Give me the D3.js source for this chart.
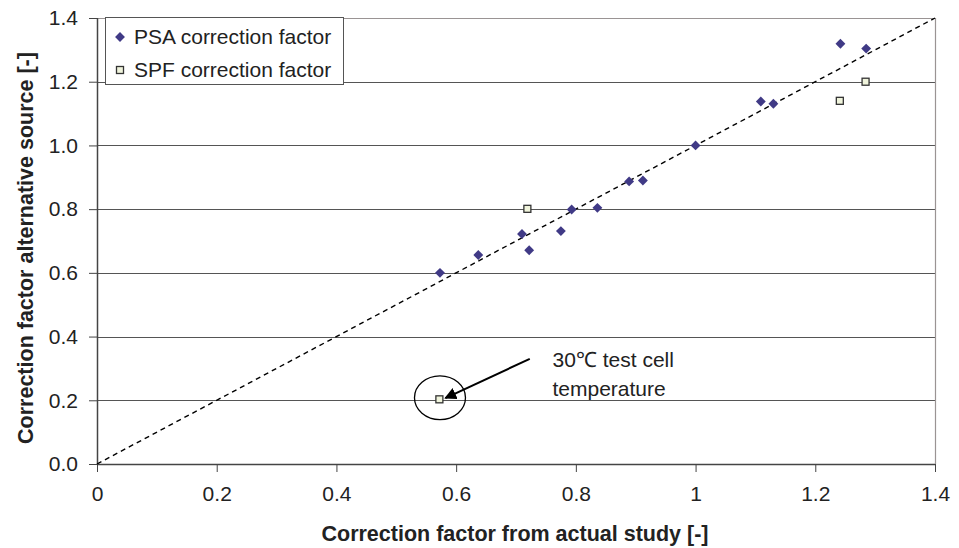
<!DOCTYPE html>
<html><head><meta charset="utf-8">
<script src="https://cdn.jsdelivr.net/npm/d3@7"></script>
<style>body{margin:0;background:#fff;} svg{display:block;} text{font-family:Arial,"Liberation Sans",sans-serif;}</style>
</head><body>
<svg id="c" width="959" height="548"></svg>
<script>
const psaX = [0.573, 0.637, 0.710, 0.722, 0.775, 0.793, 0.836, 0.889, 0.912, 1.0, 1.109, 1.130, 1.242, 1.285];
const psaY = [0.600, 0.656, 0.722, 0.671, 0.731, 0.799, 0.804, 0.887, 0.890, 1.0, 1.138, 1.131, 1.319, 1.304];
const spfX = [0.572, 0.719, 1.241, 1.284];
const spfY = [0.203, 0.801, 1.140, 1.200];
const xTicks = [0, 0.2, 0.4, 0.6, 0.8, 1, 1.2, 1.4];
const yTicks = [0, 0.2, 0.4, 0.6, 0.8, 1.0, 1.2, 1.4];
const seriesNames = ["PSA correction factor", "SPF correction factor"];
const annoLines = ["30\u2103 test cell", "temperature"];

const svg = d3.select("#c");
const L = 97, R = 935, T = 18, B = 464;
const x = d3.scaleLinear().domain([0, 1.4]).range([L, R]);
const y = d3.scaleLinear().domain([0, 1.4]).range([B, T]);
const FS = 21;
const TFS = 21.5;
const diamondFill = "#403a86", sqFill = "#f0f4dc", sqStroke = "#333";

// gridlines
svg.append("g").selectAll("line").data(yTicks.filter(d => d > 0 && d < 1.4)).join("line")
  .attr("x1", L).attr("x2", R).attr("y1", d => Math.round(y(d)) + 0.5).attr("y2", d => Math.round(y(d)) + 0.5)
  .attr("stroke", "#555").attr("stroke-width", 1);
// top & right border
svg.append("path").attr("d", `M${L},${Math.round(T)+0.5}H${R+0.5}V${B}`)
  .attr("fill", "none").attr("stroke", "#9a9494").attr("stroke-width", 1.2);

// axes
const xAxis = d3.axisBottom(x).tickValues(xTicks).tickSize(8).tickPadding(14)
  .tickFormat(d => d === 0 ? "0" : d === 1 ? "1" : d3.format(".1f")(d));
const gx = svg.append("g").attr("transform", `translate(0,${B})`).call(xAxis);
gx.select(".domain").attr("stroke", "#444").attr("stroke-width", 1.5).attr("d", `M${L},0.5H${R}`);
gx.selectAll(".tick line").attr("stroke", "#444");
gx.selectAll("text").attr("font-size", FS).attr("fill", "#222").attr("font-family", "Arial, Liberation Sans, sans-serif");

const yAxis = d3.axisLeft(y).tickValues(yTicks).tickSize(8).tickPadding(11).tickFormat(d3.format(".1f"));
const gy = svg.append("g").attr("transform", `translate(${L},0)`).call(yAxis);
gy.select(".domain").attr("stroke", "#444").attr("stroke-width", 1.5).attr("d", `M0.5,${T}V${B}`);
gy.selectAll(".tick line").attr("stroke", "#444");
gy.selectAll("text").attr("font-size", FS).attr("fill", "#222").attr("font-family", "Arial, Liberation Sans, sans-serif");

// 1:1 line
svg.append("line").attr("x1", x(0)).attr("y1", y(0)).attr("x2", x(1.4)).attr("y2", y(1.4))
  .attr("stroke", "#000").attr("stroke-width", 1.4).attr("stroke-dasharray", "5,4");

// PSA diamonds
const dsym = d3.symbol().type(d3.symbolDiamond2).size(62);
svg.append("g").selectAll("path").data(psaX.map((v, i) => [v, psaY[i]])).join("path")
  .attr("d", dsym).attr("transform", d => `translate(${x(d[0])},${y(d[1])})`)
  .attr("fill", diamondFill);

// SPF squares
svg.append("g").selectAll("rect").data(spfX.map((v, i) => [v, spfY[i]])).join("rect")
  .attr("x", d => x(d[0]) - 3.5).attr("y", d => y(d[1]) - 3.5).attr("width", 7).attr("height", 7)
  .attr("fill", sqFill).attr("stroke", sqStroke).attr("stroke-width", 1.3);

// annotation
const ann = { tx: 0.761, ty: 0.305, ax1: 0.723, ay1: 0.330, ax2: 0.582, ay2: 0.207, ex: 0.573, ey: 0.208 };
svg.append("defs").append("marker").attr("id", "ah").attr("viewBox", "0 0 10 10").attr("refX", 9).attr("refY", 5)
  .attr("markerWidth", 6).attr("markerHeight", 6).attr("orient", "auto")
  .append("path").attr("d", "M0,0L10,5L0,10z").attr("fill", "#000");
svg.append("line").attr("x1", x(ann.ax1)).attr("y1", y(ann.ay1)).attr("x2", x(ann.ax2)).attr("y2", y(ann.ay2))
  .attr("stroke", "#000").attr("stroke-width", 2).attr("marker-end", "url(#ah)");
svg.append("ellipse").attr("cx", x(ann.ex)).attr("cy", y(ann.ey)).attr("rx", 25.5).attr("ry", 21.8)
  .attr("fill", "none").attr("stroke", "#000").attr("stroke-width", 1.3);
const at = svg.append("text").attr("x", x(ann.tx)).attr("y", y(ann.ty)).attr("font-size", FS).attr("fill", "#222");
annoLines.forEach((t, i) => at.append("tspan").attr("x", x(ann.tx)).attr("dy", i === 0 ? 0 : 29).text(t));

// legend
const lg = svg.append("g");
lg.append("rect").attr("x", 105.5).attr("y", 17.5).attr("width", 238).attr("height", 67)
  .attr("fill", "#fff").attr("stroke", "#555").attr("stroke-width", 1);
lg.append("path").attr("d", dsym).attr("transform", "translate(120,37)").attr("fill", diamondFill);
lg.append("rect").attr("x", 116.5).attr("y", 66.5).attr("width", 7).attr("height", 7)
  .attr("fill", sqFill).attr("stroke", sqStroke).attr("stroke-width", 1.3);
lg.append("text").attr("x", 134).attr("y", 44).attr("font-size", FS).attr("fill", "#222").text(seriesNames[0]);
lg.append("text").attr("x", 134).attr("y", 77).attr("font-size", FS).attr("fill", "#222").text(seriesNames[1]);

// axis titles
svg.append("text").attr("x", (L + R) / 2 - 1).attr("y", 541).attr("text-anchor", "middle")
  .attr("font-size", TFS).attr("font-weight", "bold").attr("fill", "#222").text("Correction factor from actual study [-]");
svg.append("text").attr("transform", "translate(33,248) rotate(-90)").attr("text-anchor", "middle")
  .attr("font-size", TFS).attr("font-weight", "bold").attr("fill", "#222").text("Correction factor alternative source [-]");
</script>
</body></html>
